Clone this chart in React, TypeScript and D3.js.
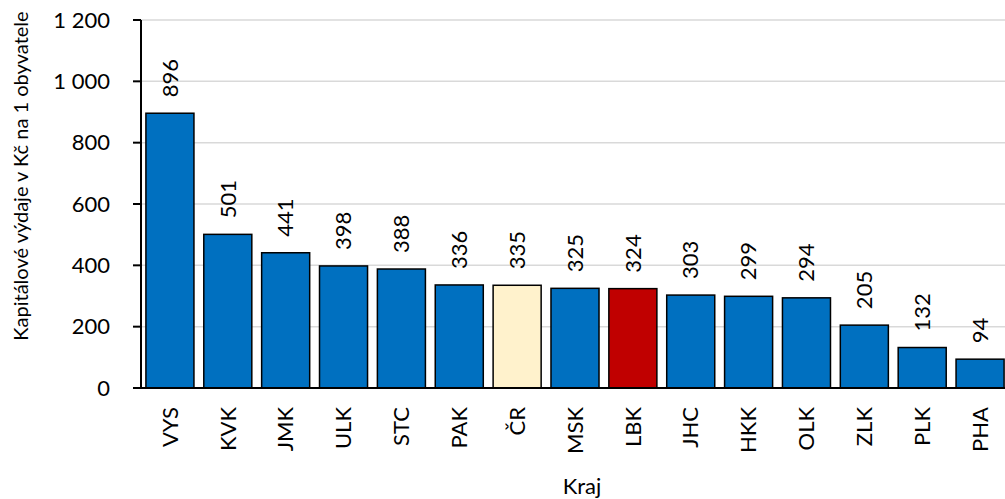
import React from "react";
import * as d3 from "d3";

const categories = ["VYS", "KVK", "JMK", "ULK", "STC", "PAK", "ČR", "MSK", "LBK", "JHC", "HKK", "OLK", "ZLK", "PLK", "PHA"];
const values = [896, 501, 441, 398, 388, 336, 335, 325, 324, 303, 299, 294, 205, 132, 94];
const yTicks = [0, 200, 400, 600, 800, 1000, 1200];
const highlightNational = "ČR";
const highlightRegion = "LBK";

const W = 1005;
const H = 499;
const FONT = "Lato, 'Open Sans', sans-serif";

const fmt = (v: number) => {
  const s = String(v);
  return s.length > 3 ? s.slice(0, s.length - 3) + "\u00a0" + s.slice(-3) : s;
};

export default function App() {
  const x = d3.scaleBand<string>().domain(categories).range([141, 1009]).paddingInner(0.17).paddingOuter(0.085);
  const y = d3.scaleLinear().domain([0, 1200]).range([388, 20]);
  const color = (c: string) => (c === highlightNational ? "#FFF2CC" : c === highlightRegion ? "#C00000" : "#0070C0");

  return (
    <svg width={W} height={H} style={{ position: "absolute", left: 0, top: 0, background: "#fff" }} fontFamily={FONT}>
      {yTicks.filter((t) => t > 0).map((t) => (
        <line key={"g" + t} x1={141} x2={1009} y1={y(t)} y2={y(t)} stroke="#d9d9d9" strokeWidth={1.5} />
      ))}
      {categories.map((c, i) => (
        <rect
          key={c}
          x={x(c)!}
          y={y(values[i])}
          width={x.bandwidth()}
          height={y(0) - y(values[i])}
          fill={color(c)}
          stroke="#000"
          strokeWidth={1.5}
        />
      ))}
      {categories.map((c, i) => {
        const cx = x(c)! + x.bandwidth() / 2;
        const ty = y(values[i]) - 16;
        return (
          <text key={"l" + c} transform={`translate(${cx},${ty}) rotate(-90)`} dy="0.35em" fontSize={22} fill="#000">
            {values[i]}
          </text>
        );
      })}
      <line x1={141} x2={141} y1={20} y2={388} stroke="#000" strokeWidth={2} />
      <line x1={133} x2={1009} y1={388} y2={388} stroke="#000" strokeWidth={2} />
      {yTicks.map((t) => (
        <g key={"t" + t}>
          <line x1={133} x2={141} y1={y(t)} y2={y(t)} stroke="#000" strokeWidth={2} />
          <text x={110} y={y(t)} dy="0.35em" textAnchor="end" fontSize={22} fill="#000">
            {fmt(t)}
          </text>
        </g>
      ))}
      {categories.map((c) => {
        const cx = x(c)! + x.bandwidth() / 2;
        return (
          <text key={"c" + c} transform={`translate(${cx},407) rotate(-90)`} dy="0.35em" textAnchor="end" fontSize={22} fill="#000">
            {c}
          </text>
        );
      })}
      <text transform="translate(21,176) rotate(-90)" dy="0.35em" textAnchor="middle" fontSize={20} fill="#000">
        Kapitálové výdaje v Kč na 1 obyvatele
      </text>
      <text x={582} y={494} textAnchor="middle" fontSize={22} fill="#000">
        Kraj
      </text>
    </svg>
  );
}
